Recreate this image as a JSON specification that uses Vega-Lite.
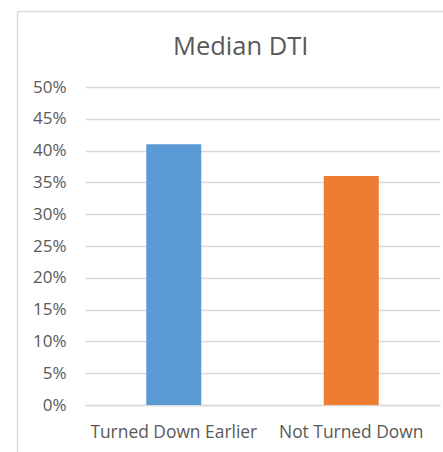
{
  "$schema": "https://vega.github.io/schema/vega-lite/v6.json",
  "width": 426,
  "height": 441,
  "autosize": {"type": "none"},
  "padding": {"left": 17, "top": 11, "right": 0, "bottom": 0},
  "background": "white",
  "view": {"stroke": "transparent"},
  "title": {
    "text": "Median DTI",
    "font": "Open Sans",
    "fontSize": 25.5,
    "fontWeight": "normal",
    "color": "#595959",
    "anchor": "start",
    "baseline": "alphabetic",
    "offset": -69,
    "dx": 156
  },
  "data": {
    "values": [
      {"status": "Turned Down Earlier", "dti": 0.41},
      {"status": "Not Turned Down", "dti": 0.36}
    ]
  },
  "layer": [
    {
      "mark": {"type": "bar", "size": 55},
      "encoding": {
        "x": {
          "field": "status",
          "type": "nominal",
          "sort": null,
          "scale": {"range": [68, 423], "paddingInner": 0, "paddingOuter": 0},
          "axis": {
            "title": null,
            "orient": "bottom",
            "offset": -47,
            "labelAngle": 0,
            "labelFont": "Open Sans",
            "labelFontSize": 17.4,
            "labelColor": "#595959",
            "labelPadding": 18.5,
            "ticks": false,
            "tickSize": 0,
            "domain": true,
            "domainColor": "#d9d9d9",
            "domainWidth": 1.5,
            "grid": false
          }
        },
        "y": {
          "field": "dti",
          "type": "quantitative",
          "scale": {"domain": [0, 0.5], "range": [394, 76], "nice": false, "zero": true},
          "axis": {
            "title": null,
            "orient": "left",
            "offset": -68,
            "values": [0, 0.05, 0.1, 0.15, 0.2, 0.25, 0.3, 0.35, 0.4, 0.45, 0.5],
            "format": ".0%",
            "labelFont": "Open Sans",
            "labelFontSize": 17,
            "labelColor": "#595959",
            "labelPadding": 19,
            "ticks": false,
            "tickSize": 0,
            "domain": false,
            "grid": true,
            "gridColor": "#d9d9d9",
            "gridWidth": 1.5
          }
        },
        "color": {
          "field": "status",
          "type": "nominal",
          "sort": null,
          "scale": {
            "domain": ["Turned Down Earlier", "Not Turned Down"],
            "range": ["#5B9BD5", "#ED7D31"]
          },
          "legend": null
        }
      }
    },
    {
      "mark": {"type": "bar", "opacity": 0},
      "encoding": {
        "x": {
          "field": "status",
          "type": "nominal",
          "sort": null,
          "axis": {
            "title": null,
            "orient": "top",
            "labels": false,
            "ticks": false,
            "grid": false,
            "domain": true,
            "domainColor": "#d9d9d9",
            "domainWidth": 1.5
          }
        },
        "y": {
          "field": "dti",
          "type": "quantitative",
          "axis": {
            "title": null,
            "orient": "left",
            "labels": false,
            "ticks": false,
            "grid": false,
            "domain": true,
            "domainColor": "#d9d9d9",
            "domainWidth": 1.5
          }
        }
      }
    }
  ],
  "resolve": {
    "scale": {"x": "independent", "y": "independent"},
    "axis": {"x": "independent", "y": "independent"}
  },
  "config": {
    "view": {"stroke": "transparent"},
    "style": {"cell": {"stroke": "transparent"}}
  }
}
